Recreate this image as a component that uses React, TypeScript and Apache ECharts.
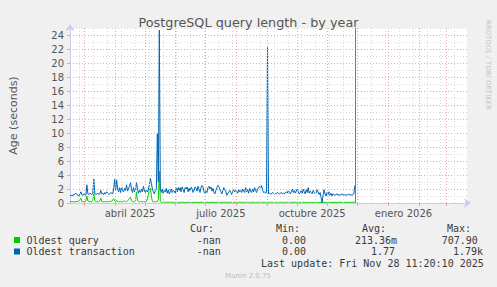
import React, { useEffect, useRef } from 'react';
import * as echarts from 'echarts';

const TITLE = 'PostgreSQL query length - by year';
const Y_AXIS_NAME = 'Age (seconds)';
const DAY = 86400000;
const AXIS_START = '2025-02-14T12:00:00Z';
const AXIS_DAYS = 400;
const FIRST_SAMPLE = '2025-02-14T12:00:00Z';
const LAST_UPDATE = '2025-11-28T11:20:10Z';
const MONTH_LINES = [
  '2025-03-01', '2025-04-01', '2025-05-01', '2025-06-01', '2025-07-01', '2025-08-01', '2025-09-01',
  '2025-10-01', '2025-11-01', '2025-12-01', '2026-01-01', '2026-02-01', '2026-03-01',
];
const FIRST_MINOR_LINE = '2025-02-24';
const MINOR_STEP_DAYS = 14;
const LABEL_MONTHS = [['2025-04-01', '2025-05-01'], ['2025-07-01', '2025-08-01'], ['2025-10-01', '2025-11-01'], ['2026-01-01', '2026-02-01']];
const LABEL_TEXTS = ['abril 2025', 'julio 2025', 'octubre 2025', 'enero 2026'];
const Y_MAX = 25;
const Y_LABELS = [0, 2, 4, 6, 8, 10, 12, 14, 16, 18, 20, 22, 24];

const SERIES_NAMES = ['Oldest query', 'Oldest transaction'];
const SERIES_COLORS = ['#00cc00', '#0066b3'];

// daily values, first value at FIRST_SAMPLE
const OLDEST_QUERY = [
  0.2, 0.2, 0.15, 0.2, 0.2, 0.15, 0.2, 0.2, 0.2, 0.3,
  0.5, 0.7, 0.2, 0.15, 0.2, 0.2, 0.3, 1.0, 0.3, 0.2,
  0.2, 0.15, 0.2, 0.4, 1.5, 0.3, 0.2, 0.2, 0.15, 0.2,
  0.3, 0.7, 0.2, 0.15, 0.2, 0.2, 0.15, 0.2, 0.2, 0.2,
  0.2, 0.3, 0.2, 0.4, 0.6, 0.3, 0.2, 0.4, 0.2, 0.15,
  0.2, 0.2, 0.15, 0.2, 0.2, 0.3, 0.2, 0.2, 0.3, 0.5,
  0.7, 0.8, 0.3, 0.2, 0.15, 0.2, 0.4, 1.6, 0.3, 0.2,
  0.15, 0.2, 0.2, 0.15, 0.2, 0.2, 0.15, 0.2, 0.6, 1.2,
  2.0, 2.1, 1.0, 0.2, 0.15, 0.2, 0.15, 0.2, 0.2, 0.5,
  4.5, 0.2, 0.1, 0.1, 0.15, 0.1, 0.1, 0.1, 0.1, 0.1,
  0.1, 0.1, 0.12, 0.1, 0.02, 0.1, 0.1, 0.12, 0.1, 0.1,
  0.02, 0.1, 0.1, 0.12, 0.1, 0.1, 0.02, 0.1, 0.1, 0.1,
  0.12, 0.1, 0.1, 0.02, 0.1, 0.1, 0.1, 0.12, 0.1, 0.02,
  0.1, 0.1, 0.1, 0.12, 0.1, 0.02, 0.1, 0.1, 0.1, 0.1,
  0.02, 0.1, 0.12, 0.1, 0.1, 0.1, 0.02, 0.1, 0.1, 0.12,
  0.1, 0.1, 0.02, 0.1, 0.1, 0.1, 0.12, 0.1, 0.02, 0.1,
  0.1, 0.12, 0.1, 0.1, 0.02, 0.1, 0.1, 0.1, 0.1, 0.02,
  0.1, 0.12, 0.1, 0.1, 0.1, 0.02, 0.1, 0.1, 0.12, 0.1,
  0.1, 0.02, 0.1, 0.1, 0.1, 0.12, 0.1, 0.02, 0.1, 0.1,
  0.1, 0.1, 0.12, 0.02, 0.1, 0.1, 0.1, 0.1, 0.02, 0.1,
  0.1, 0.1, 0.1, 0.12, 0.1, 0.02, 0.1, 0.1, 0.1, 0.1,
  0.02, 0.1, 0.12, 0.1, 0.1, 0.1, 0.02, 0.1, 0.1, 0.1,
  0.12, 0.1, 0.02, 0.1, 0.1, 0.1, 0.1, 0.12, 0.02, 0.1,
  0.1, 0.1, 0.1, 0.02, 0.1, 0.12, 0.1, 0.1, 0.1, 0.02,
  0.1, 0.1, 0.12, 0.1, 0.02, 0.1, 0.1, 0.1, 0.1, 0.12,
  0.02, 0.1, 0.1, 0.1, 0.0, 0.1, 0.12, 0.1, 0.02, 0.1,
  0.1, 0.1, 0.12, 0.1, 0.02, 0.1, 0.1, 0.1, 0.1, 0.02,
  0.1, 0.12, 0.1, 0.1, 0.1, 0.02, 0.1, 0.1, 0.1, 0.12,
  0.1, 0.02, 0.1, 0.1, 0.1, 0.1, 0.12, 0.1,
];

const OLDEST_TRANSACTION = [
  1.1, 1.1, 1.0, 1.2, 1.1, 1.3, 1.4, 1.2, 1.1, 1.0,
  1.3, 1.6, 1.2, 1.1, 1.3, 1.2, 1.1, 2.6, 1.3, 1.2,
  1.4, 1.3, 1.2, 1.5, 3.4, 1.4, 1.2, 1.3, 1.4, 1.2,
  1.3, 1.8, 1.3, 1.4, 1.2, 1.5, 1.3, 1.6, 1.4, 1.2,
  1.3, 1.5, 1.4, 1.3, 2.0, 3.4, 1.8, 3.3, 2.0, 1.6,
  2.2, 1.5, 2.3, 1.7, 1.6, 2.1, 1.8, 2.6, 1.7, 2.0,
  2.5, 2.9, 2.0, 1.5, 2.2, 1.6, 1.9, 2.9, 2.0, 1.4,
  1.8, 1.5, 2.0, 1.6, 2.4, 1.7, 1.5, 1.8, 1.6, 2.0,
  2.6, 3.5, 2.8, 2.0, 1.6, 1.3, 1.8, 2.0, 9.9, 3.0,
  24.7, 2.0, 1.5, 2.0, 1.3, 1.8, 1.6, 2.1, 1.4, 1.9,
  1.3, 1.6, 2.0, 1.5, 1.8, 1.7, 1.4, 2.1, 1.6, 2.2,
  1.8, 2.2, 1.6, 2.3, 1.9, 1.5, 2.2, 2.0, 2.3, 1.6,
  2.1, 1.7, 2.3, 2.0, 1.5, 1.8, 2.3, 2.1, 1.7, 2.4,
  1.9, 1.5, 2.2, 2.5, 2.3, 1.6, 1.4, 1.7, 1.5, 2.2,
  2.4, 2.0, 2.3, 1.7, 2.1, 1.5, 1.3, 1.8, 2.2, 2.5,
  2.3, 1.9, 1.6, 1.3, 1.8, 2.2, 1.9, 1.6, 1.1, 1.4,
  1.6, 1.8, 1.5, 1.2, 1.7, 1.9, 1.6, 1.8, 1.7, 1.4,
  1.9, 1.6, 1.8, 1.5, 2.0, 1.7, 1.5, 2.2, 1.6, 1.9,
  1.4, 2.1, 1.7, 1.5, 2.0, 1.6, 2.2, 1.8, 1.5, 2.0,
  2.2, 2.4, 2.1, 2.5, 1.9, 1.5, 1.6, 1.4, 1.5, 22.2,
  1.3, 1.4, 1.3, 1.3, 1.5, 1.4, 1.3, 1.4, 1.3, 1.5,
  1.4, 1.3, 1.4, 1.5, 1.3, 1.4, 1.3, 1.5, 1.6, 1.4,
  1.8, 1.5, 1.3, 1.6, 2.0, 1.5, 1.8, 1.4, 1.7, 2.0,
  1.6, 1.3, 1.5, 1.8, 1.4, 2.0, 1.6, 1.3, 1.9, 1.5,
  2.2, 1.4, 1.7, 1.5, 1.3, 1.8, 1.5, 1.3, 1.4, 1.9,
  1.6, 1.2, 1.5, 0.8, 0.05, 1.1, 1.9, 1.3, 1.0, 1.5,
  1.2, 1.6, 1.1, 1.4, 1.0, 1.3, 1.2, 1.1, 1.2, 1.3,
  1.1, 1.2, 1.1, 1.2, 1.3, 1.1, 1.2, 1.1, 1.2, 1.1,
  1.2, 1.3, 1.1, 1.2, 1.1, 1.2, 1.3, 2.5,
];

const LEGEND_HEADERS = ['Cur:', 'Min:', 'Avg:', 'Max:'];
const LEGEND_VALUES = [
  ['-nan', '0.00', '213.36m', '707.90'],
  ['-nan', '0.00', '1.77', '1.79k'],
];
const LAST_UPDATE_TEXT = 'Last update: Fri Nov 28 11:20:10 2025';
const FOOTER = 'Munin 2.0.75';
const WATERMARK = 'RRDTOOL / TOBI OETIKER';

export default function App() {
  const ref = useRef<HTMLDivElement>(null);
  useEffect(() => {
    if (!ref.current) return;
    const chart = echarts.init(ref.current, null, { renderer: 'svg' });
    const axisMin = Date.parse(AXIS_START);
    // x axis in days since AXIS_START
    const dayOf = (t: number) => (t - axisMin) / DAY;
    const firstDay = dayOf(Date.parse(FIRST_SAMPLE));
    const toPairs = (arr: number[]) => arr.map((v, i) => [firstDay + i, v]);
    const monthLines = MONTH_LINES.map((d) => dayOf(Date.parse(d + 'T00:00:00Z')));
    const minorLines: number[] = [];
    for (let d = dayOf(Date.parse(FIRST_MINOR_LINE + 'T00:00:00Z')); d < AXIS_DAYS; d += MINOR_STEP_DAYS) minorLines.push(d);
    const labelPos = LABEL_MONTHS.map(([a, b]) => (dayOf(Date.parse(a + 'T00:00:00Z')) + dayOf(Date.parse(b + 'T00:00:00Z'))) / 2);
    const nowD = dayOf(Date.parse(LAST_UPDATE));

    const red = '#eca4a4';
    const gray = '#dadada';
    const axisColor = '#c8ccf4';
    const mono = '"DejaVu Sans Mono", monospace';
    const sans = '"DejaVu Sans", sans-serif';
    const txt = '#3a3a3a';

    const gridMarks = [
      ...minorLines.map((d) => ({ xAxis: d, lineStyle: { color: gray, type: [1, 2], width: 1 } })),
      ...monthLines.map((d) => ({ xAxis: d, lineStyle: { color: red, type: [1, 2], width: 1 } })),
      { xAxis: nowD, lineStyle: { color: '#7a7a7a', type: 'solid', width: 1 } },
    ];

    const colX = [190, 276, 362, 447];
    const valX = [[196.7, 282, 355, 441.7], [196.7, 282, 371, 453]];
    const rowY = [240, 251.5];
    const graphics: any[] = [];
    LEGEND_HEADERS.forEach((h, i) => graphics.push({ type: 'text', x: colX[i], y: 228, style: { text: h, font: `10px ${mono}`, fill: txt, textVerticalAlign: 'middle' } }));
    SERIES_NAMES.forEach((n, r) => {
      graphics.push({ type: 'rect', shape: { x: 14, y: rowY[r] - 3, width: 6, height: 6 }, style: { fill: SERIES_COLORS[r] } });
      graphics.push({ type: 'text', x: 26.5, y: rowY[r], style: { text: n, font: `10px ${mono}`, fill: txt, textVerticalAlign: 'middle' } });
      LEGEND_VALUES[r].forEach((v, i) => graphics.push({ type: 'text', x: valX[r][i], y: rowY[r], style: { text: v, font: `10px ${mono}`, fill: txt, textVerticalAlign: 'middle' } }));
    });
    graphics.push({ type: 'text', x: 261, y: 263.3, style: { text: LAST_UPDATE_TEXT, font: `10px ${mono}`, fill: txt, textVerticalAlign: 'middle' } });
    graphics.push({ type: 'text', x: 248, y: 276, style: { text: FOOTER, font: `7px ${sans}`, fill: '#bbbbbb', textAlign: 'center', textVerticalAlign: 'middle' } });
    graphics.push({ type: 'text', x: 488, y: 65, rotation: -Math.PI / 2, style: { text: WATERMARK, font: `7px ${sans}`, fill: '#c4c4c4', textAlign: 'center', textVerticalAlign: 'middle' } });

    chart.setOption({
      animation: false,
      backgroundColor: '#f0f0f0',
      title: { text: TITLE, left: 'center', top: 11, textStyle: { fontFamily: sans, fontSize: 12.8, fontWeight: 'normal', color: '#555' } },
      grid: { left: 67, top: 28, width: 400, height: 175, show: true, backgroundColor: '#ffffff', borderWidth: 0 },
      xAxis: {
        type: 'value', min: 0, max: AXIS_DAYS,
        axisLine: { show: true, onZero: false, lineStyle: { color: axisColor, width: 1 }, symbol: ['none', 'arrow'], symbolSize: [7, 7], symbolOffset: [0, 4] },
        axisTick: { show: true, customValues: monthLines, length: 3, lineStyle: { color: red } },
        axisLabel: {
          customValues: labelPos, margin: 5, color: '#555', fontFamily: sans, fontSize: 10,
          formatter: (v: number) => { const i = labelPos.findIndex((p) => Math.abs(p - v) < 1); return i >= 0 ? LABEL_TEXTS[i] : ''; },
        },
        splitLine: { show: false },
      },
      yAxis: [
        {
          type: 'value', min: 0, max: Y_MAX, interval: 1,
          axisLine: { show: true, lineStyle: { color: axisColor, width: 1 }, symbol: ['none', 'arrow'], symbolSize: [7, 7], symbolOffset: [0, 4] },
          axisTick: { show: false }, axisLabel: { show: false },
          splitLine: { show: true, lineStyle: { color: [red, gray], type: [1, 2], width: 1 } },
        },
        {
          type: 'value', min: 0, max: Y_MAX, position: 'left',
          name: Y_AXIS_NAME, nameLocation: 'middle', nameGap: 51,
          nameTextStyle: { fontFamily: sans, fontSize: 11, color: '#555' },
          axisLine: { show: false },
          axisTick: { show: true, customValues: Y_LABELS, length: 3, lineStyle: { color: red } },
          axisLabel: { customValues: Y_LABELS, margin: 6, color: '#555', fontFamily: sans, fontSize: 10 },
          splitLine: { show: false },
        },
      ],
      series: [
        {
          type: 'line', z: 1, data: [[0, 0]], symbol: 'none', lineStyle: { opacity: 0 }, silent: true,
          markLine: { silent: true, symbol: ['none', 'none'], label: { show: false }, data: gridMarks },
        },
        { name: SERIES_NAMES[0], type: 'line', z: 3, data: toPairs(OLDEST_QUERY), showSymbol: false, symbol: 'none', lineStyle: { color: SERIES_COLORS[0], width: 1 }, color: SERIES_COLORS[0] },
        { name: SERIES_NAMES[1], type: 'line', z: 4, data: toPairs(OLDEST_TRANSACTION), showSymbol: false, symbol: 'none', lineStyle: { color: SERIES_COLORS[1], width: 1 }, color: SERIES_COLORS[1] },
      ],
      graphic: graphics,
    });
    return () => chart.dispose();
  }, []);
  return <div ref={ref} style={{ position: 'absolute', left: 0, top: 0, width: 497, height: 287 }} />;
}
